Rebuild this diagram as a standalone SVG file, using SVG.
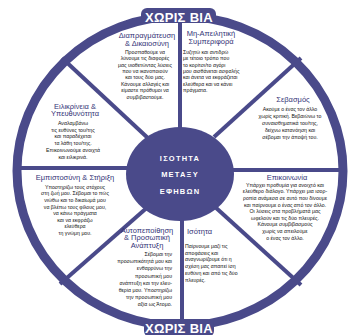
<svg xmlns="http://www.w3.org/2000/svg" width="350" height="335" viewBox="0 0 350 335">
<style>
  .ring{fill:none;stroke:#4a4a8a;stroke-width:9}
  .spoke{stroke:#4a4a8a;stroke-width:4;stroke-linecap:butt}
  .dark{fill:#4a4a8a}
  .band{font-family:"Liberation Sans",Arial,sans-serif;font-weight:bold;font-size:13px;fill:#fff;text-anchor:middle;letter-spacing:0.3px}
  .hub{font-family:"Liberation Sans",Arial,sans-serif;font-weight:bold;font-size:7.5px;fill:#fff;text-anchor:middle;letter-spacing:1.2px}
  .title{font-family:"Liberation Sans",Arial,sans-serif;font-size:7.5px;fill:#343477}
  .body{font-family:"Liberation Sans",Arial,sans-serif;font-size:5.2px;fill:#111}
  .c{text-anchor:middle}
  .r{text-anchor:end}
</style>
<rect width="350" height="335" fill="#fff"/>
<g id="connectors">
  <line class="spoke" x1="180" y1="172" x2="180" y2="14"/>
  <line class="spoke" x1="182" y1="172" x2="182" y2="328"/>
  <line class="spoke" x1="180" y1="168" x2="14" y2="168"/>
  <line class="spoke" x1="180" y1="170" x2="346" y2="170"/>
  <line class="spoke" x1="62" y1="58" x2="150" y2="140"/>
  <line class="spoke" x1="301" y1="58" x2="214" y2="137"/>
  <line class="spoke" x1="150" y1="205" x2="60" y2="284"/>
  <line class="spoke" x1="214" y1="206" x2="301" y2="285"/>
</g>
<g id="ring">
  <ellipse class="ring" cx="180" cy="171" rx="163" ry="155"/>
  <rect class="dark" x="141" y="8" width="75" height="15" rx="6"/>
  <text class="band" x="179" y="22">ΧΩΡΙΣ ΒΙΑ</text>
  <rect class="dark" x="144" y="319" width="70" height="18" rx="6"/>
  <text class="band" x="179" y="333">ΧΩΡΙΣ ΒΙΑ</text>
</g>
<g id="hub">
  <ellipse class="dark" cx="180" cy="174" rx="54" ry="47"/>
  <text class="hub" x="180" y="160.7">ΙΣΟΤΗΤΑ</text>
  <text class="hub" x="180" y="176.7">ΜΕΤΑΞΥ</text>
  <text class="hub" x="180" y="193.7">ΕΦΗΒΩΝ</text>
</g>
<g id="negotiation">
  <text class="title c" x="147" y="37.5">Διαπραγμάτευση<tspan x="147" dy="8">&amp; Δικαιοσύνη</tspan></text>
  <text class="body c" x="145" y="53.8">Προσπαθούμε να<tspan x="145" dy="6.4">λύνουμε τις διαφορές</tspan><tspan x="145" dy="6.4">μας υιοθετώντας λύσεις</tspan><tspan x="145" dy="6.4">που να ικανοποιούν</tspan><tspan x="145" dy="6.4">και τους δύο μας.</tspan><tspan x="145" dy="6.4">Κάνουμε αλλαγές και</tspan><tspan x="145" dy="6.4">είμαστε πρόθυμοι να</tspan><tspan x="145" dy="6.4">συμβιβαστούμε.</tspan></text>
</g>
<g id="nonthreatening">
  <text class="title c" x="211" y="35.5">Μη-Απειλητική<tspan x="211" dy="8.5">Συμπεριφορά</tspan></text>
  <text class="body" x="183" y="53.8">Συζητώ και αντιδρώ<tspan x="183" dy="6.4">με τέτοιο τρόπο που</tspan><tspan x="183" dy="6.4">το κορίτσι/το αγόρι</tspan><tspan x="183" dy="6.4">μου αισθάνεται ασφαλής</tspan><tspan x="183" dy="6.4">και άνετα να εκφράζεται</tspan><tspan x="183" dy="6.4">ελεύθερα και να κάνει</tspan><tspan x="183" dy="6.4">πράγματα.</tspan></text>
</g>
<g id="respect">
  <text class="title c" x="293" y="101.5">Σεβασμός</text>
  <text class="body c" x="290" y="110.8">Ακούμε ο ένας τον άλλο<tspan x="290" dy="7">χωρίς κριτική. Βεβαιώνω το</tspan><tspan x="290" dy="7">συναισθηματικά του/της,</tspan><tspan x="290" dy="7">δείχνω κατανόηση και</tspan><tspan x="290" dy="7">σέβομαι την άποψή του.</tspan></text>
</g>
<g id="communication">
  <text class="title c" x="287" y="179.5">Επικοινωνία</text>
  <text class="body c" x="285" y="186.8">Υπάρχει προθυμία για ανοιχτό και<tspan x="285" dy="6.6">ελεύθερο διάλογο. Υπάρχει μια ισορ-</tspan><tspan x="285" dy="6.6">ροπία ανάμεσα σε αυτό που δίνουμε</tspan><tspan x="285" dy="6.6">και παίρνουμε ο ένας από τον άλλο.</tspan><tspan x="285" dy="6.6">Οι λύσεις στα προβλήματά μας</tspan><tspan x="285" dy="6.6">ωφελούν και τις δύο πλευρές.</tspan><tspan x="285" dy="6.6">Κάνουμε συμβιβασμούς</tspan><tspan x="285" dy="6.6">χωρίς να απειλούμε</tspan><tspan x="285" dy="6.6">ο ένας τον άλλο.</tspan></text>
</g>
<g id="equality">
  <text class="title" x="187" y="233.5">Ισότητα</text>
  <text class="body" x="185" y="247.8">Παίρνουμε μαζί τις<tspan x="185" dy="6.8">αποφάσεις και</tspan><tspan x="185" dy="6.8">αναγνωρίζουμε ότι η</tspan><tspan x="185" dy="6.8">σχέση μας απαιτεί ίση</tspan><tspan x="185" dy="6.8">ευθύνη και από τις δύο</tspan><tspan x="185" dy="6.8">πλευρές.</tspan></text>
</g>
<g id="selfconfidence">
  <text class="title c" x="147" y="232.5">Αυτοπεποίθηση<tspan x="147" dy="7.6">&amp; Προσωπική</tspan><tspan x="147" dy="7.6">Ανάπτυξη</tspan></text>
  <text class="body r" x="172" y="256">Σέβομαι την<tspan x="172" dy="7.2">προσωπικότητά μου και</tspan><tspan x="172" dy="7.2">ενθαρρύνω την</tspan><tspan x="172" dy="7.2">προσωπική μου</tspan><tspan x="172" dy="7.2">ανάπτυξη και την ελευ-</tspan><tspan x="172" dy="7.2">θερία μου. Υποστηρίζω</tspan><tspan x="172" dy="7.2">την προσωπική μου</tspan><tspan x="172" dy="7.2">αξία ως Άτομο.</tspan></text>
</g>
<g id="trust">
  <text class="title c" x="75" y="179.5">Εμπιστοσύνη &amp; Στήριξη</text>
  <text class="body c" x="75" y="188.8">Υποστηρίζω τους στόχους<tspan x="75" dy="6.6">στη ζωή μου. Σέβομαι το πώς</tspan><tspan x="75" dy="6.6">νιώθω και το δικαίωμά μου</tspan><tspan x="75" dy="6.6">να βλέπω τους φίλους μου,</tspan><tspan x="75" dy="6.6">να κάνω πράγματα</tspan><tspan x="75" dy="6.6">και να εκφράζω</tspan><tspan x="75" dy="6.6">ελεύθερα</tspan><tspan x="75" dy="6.6">τη γνώμη μου.</tspan></text>
</g>
<g id="honesty">
  <text class="title c" x="75" y="108.5">Ειλικρίνεια &amp;<tspan x="75" dy="7.6">Υπευθυνότητα</tspan></text>
  <text class="body c" x="73" y="124.8">Αναλαμβάνω<tspan x="73" dy="6.8">τις ευθύνες του/της</tspan><tspan x="73" dy="6.8">και παραδέχεται</tspan><tspan x="73" dy="6.8">τα λάθη του/της.</tspan><tspan x="73" dy="6.8">Επικοινωνούμε ανοιχτά</tspan><tspan x="73" dy="6.8">και ειλικρινά.</tspan></text>
</g>
</svg>
